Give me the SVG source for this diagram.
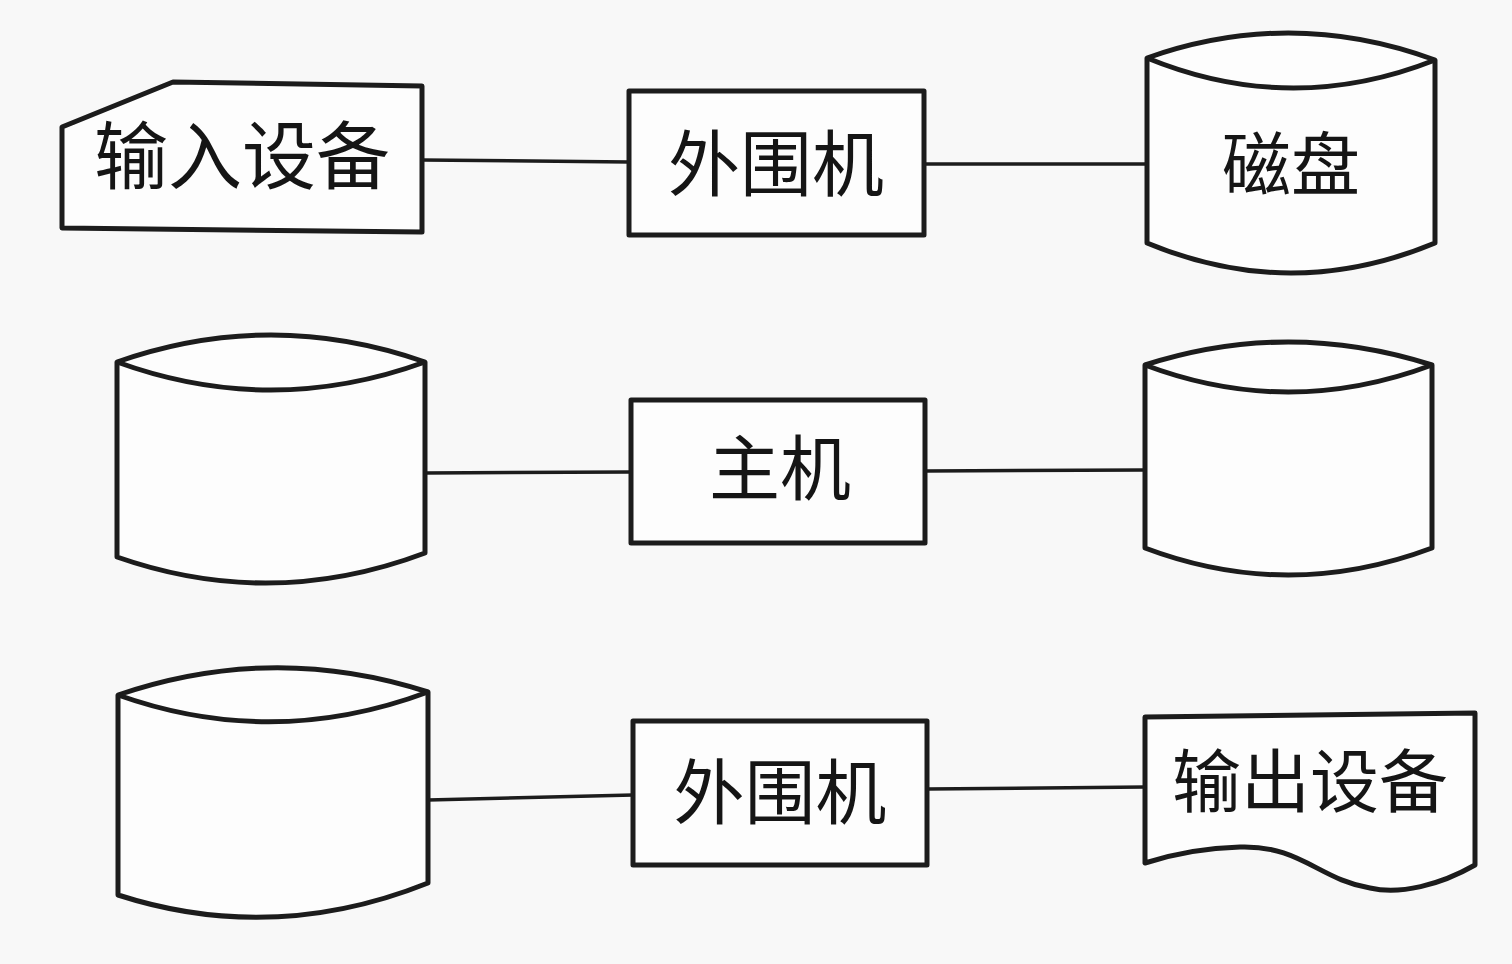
<svg xmlns="http://www.w3.org/2000/svg" width="1512" height="964" viewBox="0 0 1512 964">
<style>
.s{fill:#fdfdfd;stroke:#1c1c1c;stroke-width:5;stroke-linejoin:round}
.c{fill:none;stroke:#1c1c1c;stroke-width:3.5}
.t{font-family:"Noto Sans CJK SC","Noto Sans CJK TC",sans-serif;fill:#151515;text-anchor:middle;dominant-baseline:central}
</style>
<rect width="1512" height="964" fill="#f8f8f8"/>
<g id="connectors">
<line class="c" x1="422" y1="160" x2="629" y2="162"/>
<line class="c" x1="924" y1="164" x2="1147" y2="164"/>
<line class="c" x1="425" y1="473" x2="631" y2="472"/>
<line class="c" x1="925" y1="471" x2="1145" y2="470"/>
<line class="c" x1="428" y1="800" x2="633" y2="795"/>
<line class="c" x1="927" y1="789" x2="1145" y2="787"/>
</g>
<g id="input-device">
<path class="s" d="M62,127 L173,82 L422,86 L422,232 L62,228 Z"/>
<text class="t" x="242" y="150" font-size="74">输入设备</text>
</g>
<g id="peripheral-1">
<rect class="s" x="629" y="91" width="295" height="144"/>
<text class="t" x="776" y="158" font-size="72">外围机</text>
</g>
<g id="disk">
<path class="s" d="M1147,58 Q1291,7 1435,60 L1435,243 Q1291,303 1147,243 Z"/>
<path class="s" d="M1147,58 Q1291,117 1435,60"/>
<text class="t" x="1291" y="160" font-size="69">磁盘</text>
</g>
<g id="storage-left-2">
<path class="s" d="M117,362 Q271,308 425,362 L425,553 Q271,611 117,557 Z"/>
<path class="s" d="M117,362 Q271,418 425,362"/>
</g>
<g id="host">
<rect class="s" x="631" y="400" width="294" height="143"/>
<text class="t" x="780" y="463" font-size="71">主机</text>
</g>
<g id="storage-right-2">
<path class="s" d="M1145,365 Q1288,319 1432,365 L1432,548 Q1288,602 1145,548 Z"/>
<path class="s" d="M1145,365 Q1288,419 1432,365"/>
</g>
<g id="storage-left-3">
<path class="s" d="M118,695 Q273,642 428,692 L428,883 Q273,945 118,895 Z"/>
<path class="s" d="M118,695 Q273,750 428,692"/>
</g>
<g id="peripheral-2">
<rect class="s" x="633" y="721" width="294" height="144"/>
<text class="t" x="780" y="787" font-size="71">外围机</text>
</g>
<g id="output-device">
<path class="s" d="M1145,717 L1475,713 L1475,865 C1440,885 1400,895 1370,888 C1320,880 1300,845 1240,847 C1200,848 1170,855 1145,863 Z"/>
<text class="t" x="1310" y="777" font-size="69">输出设备</text>
</g>
</svg>
